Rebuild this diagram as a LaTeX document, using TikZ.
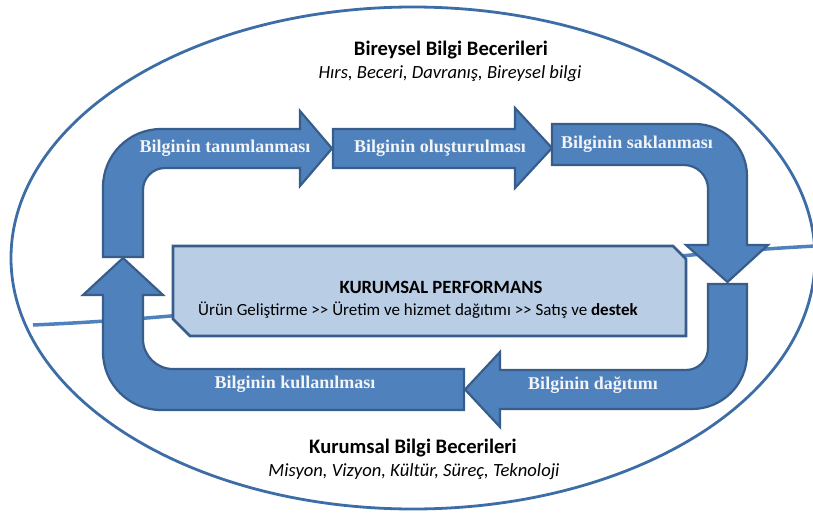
\documentclass[tikz,border=0pt]{standalone}
\usepackage{fontspec}
\setmainfont{Carlito}
\newfontfamily\labelserif{Liberation Serif}
\definecolor{flowfill}{HTML}{4F81BD}
\definecolor{flowedge}{HTML}{385D8A}
\definecolor{boxfill}{HTML}{B9CDE5}
\definecolor{ringblue}{HTML}{3D6DA6}
\definecolor{labelwhite}{HTML}{F2F4F8}
\newcommand{\twogt}{>\kern0pt>}
\begin{document}
\begin{tikzpicture}[x=1pt,y=-1pt,
  flow/.style={fill=flowfill,draw=flowedge,line width=2.2pt,line join=miter},
  flowlabel/.style={text=labelwhite,inner sep=0pt,
    font=\labelserif\bfseries\fontsize{18}{20}\selectfont},
  headtitle/.style={inner sep=0pt,font=\bfseries\fontsize{20.6}{22}\selectfont},
  headsub/.style={inner sep=0pt,font=\itshape\fontsize{18.6}{22}\selectfont}]
\useasboundingbox (0,0) rectangle (813,516);

% outer ring and the horizon line behind the cycle
\draw[ringblue,line width=2.8pt] (413,258) ellipse [x radius=402, y radius=251];
\draw[flowfill,line width=3.5pt] (33,325) .. controls (330,312) and (520,262) .. (815,246);

% central performance panel with clipped corners
\draw[fill=boxfill,draw=flowedge,line width=2.6pt,line join=miter]
  (173,246) -- (673,246) -- (686,259) -- (686,336) -- (190,336) -- (173,319) -- cycle;
\node (perf) at (441,287) [inner sep=0pt,font=\bfseries\fontsize{18.7}{20}\selectfont] {KURUMSAL PERFORMANS};
\node (chain) at (418,310) [inner sep=0pt,font=\fontsize{17}{20}\selectfont]
  {Ürün Geliştirme \twogt{} Üretim ve hizmet dağıtımı \twogt{} Satış ve \textbf{destek}};

% knowledge cycle: five arrows
\draw[flow] (103,257) -- (103,187) arc[start angle=180,end angle=270,radius=58]
  -- (300,129) -- (300,111) -- (332,148.5) -- (300,186) -- (300,168) -- (165,168)
  arc[start angle=270,end angle=180,radius=22] -- (143,257) -- cycle;
\draw[flow] (333,129) -- (515,129) -- (515,108) -- (552,148) -- (515,188) -- (515,168)
  -- (333,168) -- cycle;
\draw[flow] (552,124) -- (695,124) arc[start angle=270,end angle=360,radius=52]
  -- (747,245) -- (768,245) -- (727.5,282) -- (686,245) -- (708,245) -- (708,189)
  arc[start angle=0,end angle=-90,radius=24] -- (552,165) -- cycle;
\draw[flow] (747,284) -- (747,354) arc[start angle=0,end angle=90,radius=55]
  -- (500,409) -- (500,427) -- (465,389.5) -- (500,352) -- (500,370) -- (686,370)
  arc[start angle=90,end angle=0,radius=22] -- (708,284) -- cycle;
\draw[flow] (464,369) -- (464,410) -- (161,410) arc[start angle=90,end angle=180,radius=58]
  -- (103,295) -- (83,295) -- (123,258) -- (163,295) -- (143,295) -- (143,339)
  arc[start angle=180,end angle=90,radius=30] -- cycle;

\node[flowlabel] (define) at (225,148) {Bilginin tanımlanması};
\node[flowlabel] (create) at (440,148) {Bilginin oluşturulması};
\node[flowlabel] (store) at (637,144) {Bilginin saklanması};
\node[flowlabel] (share) at (593,385) {Bilginin dağıtımı};
\node[flowlabel] (use) at (295,384) {Bilginin kullanılması};

% captions above and below the cycle
\node[headtitle] (indiv) at (451,50) {Bireysel Bilgi Becerileri};
\node[headsub] (indivsub) at (450,74) {Hırs, Beceri, Davranış, Bireysel bilgi};
\node[headtitle] (corp) at (413,448) {Kurumsal Bilgi Becerileri};
\node[headsub] (corpsub) at (414,472) {Misyon, Vizyon, Kültür, Süreç, Teknoloji};
\end{tikzpicture}
\end{document}
